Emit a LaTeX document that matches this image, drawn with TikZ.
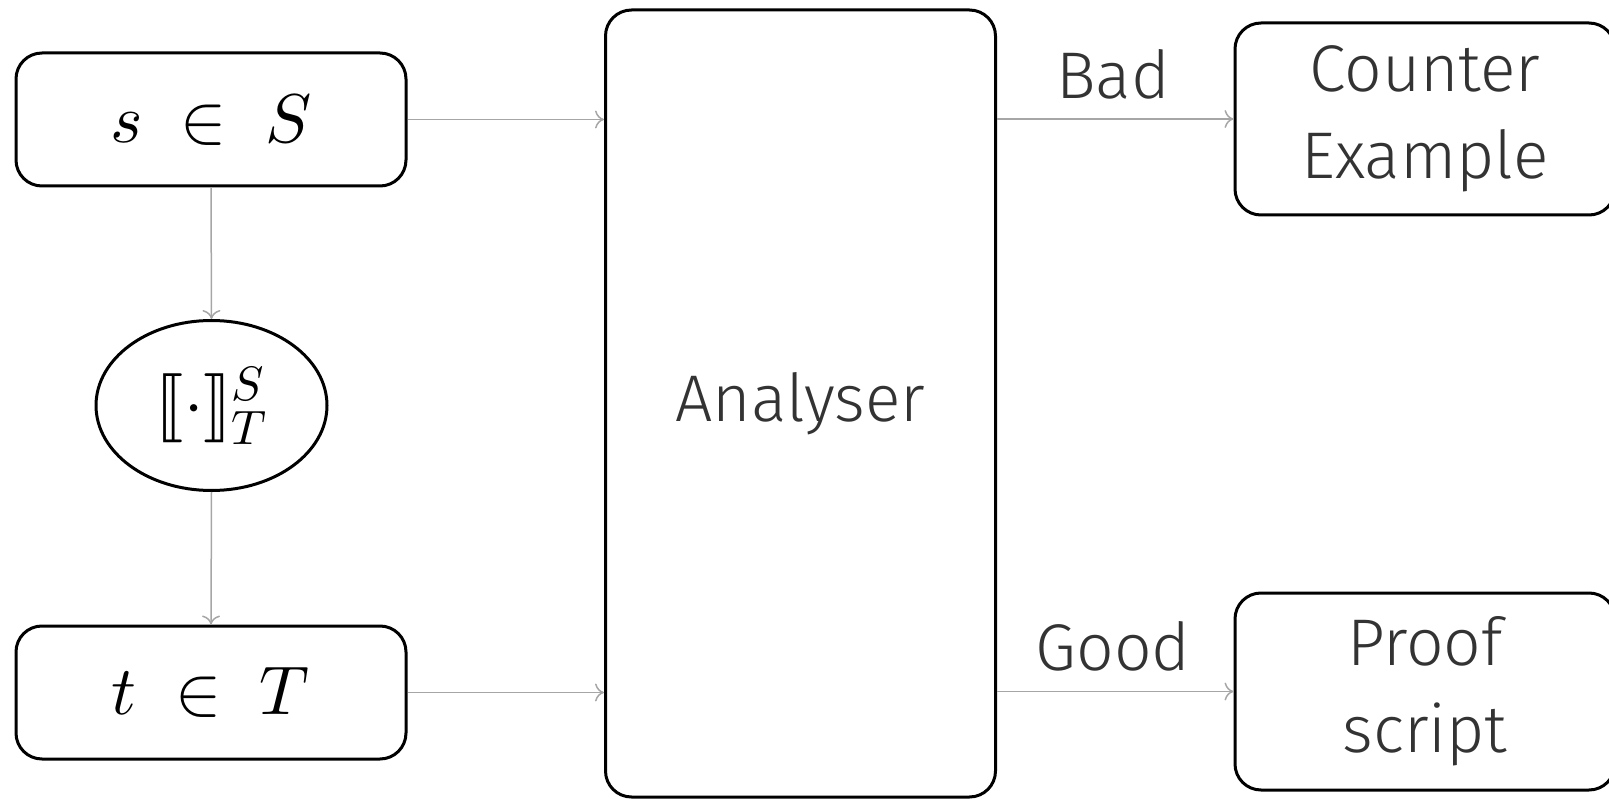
\documentclass[tikz,border=0pt]{standalone}
\usepackage{fontspec}
\usepackage{unicode-math}
\setmathfont{Latin Modern Math}
\newfontfamily\lab{Fira Sans Light}
\usetikzlibrary{shapes.geometric,arrows.meta}
\definecolor{txt}{gray}{0.2}
\tikzset{
  box/.style={draw, line width=3pt, rounded corners=26pt, inner sep=0pt, align=center,
    text=txt, font=\lab\fontsize{66}{87}\selectfont},
  ell/.style={draw, ellipse, line width=3pt, inner sep=0pt},
  conn/.style={draw=gray!70, line width=1.5pt, -{To[length=9pt,width=18pt]}},
  lbl/.style={font=\lab\fontsize{66}{87}\selectfont, inner sep=0pt, text=txt},
  mth/.style={font=\fontsize{69}{84}\selectfont, text=black}
}
\begin{document}
\begin{tikzpicture}[x=1pt,y=-1pt]
\useasboundingbox (0,0) rectangle (1609,799);
\node[box, mth, minimum width=390pt, minimum height=133pt] (s) at (211,119.5) {$s\;\in\;S$};
\node[ell, mth, minimum width=231pt, minimum height=170pt] (e) at (211.5,405.5) {$⟦\cdot⟧^{S}_{T}$};
\node[box, mth, minimum width=390pt, minimum height=133pt] (t) at (211,692.5) {$t\;\in\;T$};
\node[box, minimum width=390pt, minimum height=787pt] (an) at (800.5,403.5) {Analyser};
\node[box, minimum width=380pt, minimum height=192pt] (ce) at (1425,119) {Counter\\Example};
\node[box, minimum width=380pt, minimum height=197pt] (pr) at (1425,691.5) {Proof\\script};
\path[conn] (s.east) -- (s.east -| an.west);
\path[conn] (t.east) -- (t.east -| an.west);
\path[conn] (s.south) -- (e.north);
\path[conn] (e.south) -- (t.north);
\path[conn] (an.east |- ce.west) -- (ce.west);
\path[conn] (an.east |- pr.west) -- (pr.west);
\node[lbl] (bad) at (1113,74) {Bad};
\node[lbl] (good) at (1113,646) {Good};
\end{tikzpicture}
\end{document}
